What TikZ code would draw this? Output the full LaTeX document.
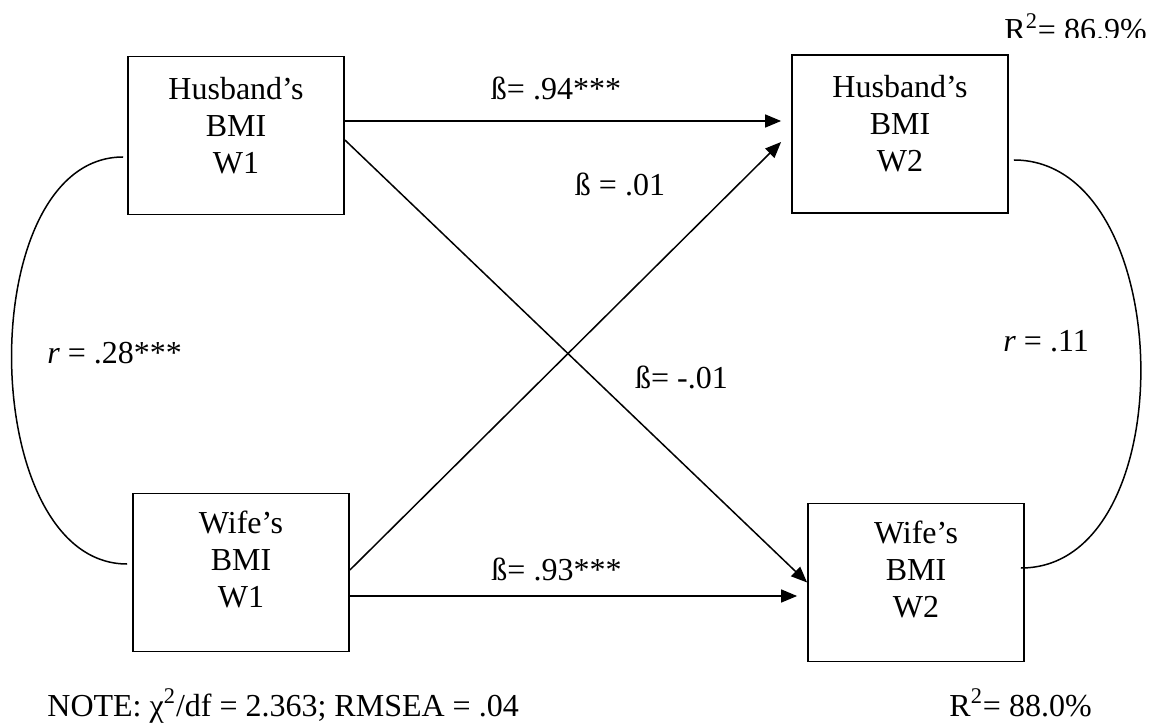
\documentclass[tikz,border=0pt]{standalone}
\usepackage{fontspec}
\setmainfont{Liberation Serif}
\usetikzlibrary{arrows.meta,calc}
\begin{document}
\begin{tikzpicture}[x=0.5pt,y=-0.5pt,
  every node/.style={font=\fontsize{16pt}{18.5pt}\selectfont, inner sep=0pt},
  var/.style={draw, line width=0.9pt, minimum width=108pt, minimum height=79pt},
  vartext/.style={anchor=base},
  path/.style={line width=0.75pt, -{Triangle[length=8pt,width=6.5pt]}},
  cov/.style={line width=0.75pt},
  lbl/.style={anchor=base},
  lblw/.style={anchor=base west},
]
\useasboundingbox (0,0) rectangle (1154,726);

% observed variables
\node[var] (hw1) at (236,135.5) {};
\node[var] (hw2) at (900,134) {};
\node[var] (ww1) at (241,572.5) {};
\node[var] (ww2) at (916,582.5) {};

\node[vartext] (hw1t) at ($(hw1.north)+(0,44)$) {\begin{tabular}[t]{@{}c@{}}Husband’s\\BMI\\W1\end{tabular}};
\node[vartext] (hw2t) at ($(hw2.north)+(0,43)$) {\begin{tabular}[t]{@{}c@{}}Husband’s\\BMI\\W2\end{tabular}};
\node[vartext] (ww1t) at ($(ww1.north)+(0,41)$) {\begin{tabular}[t]{@{}c@{}}Wife’s\\BMI\\W1\end{tabular}};
\node[vartext] (ww2t) at ($(ww2.north)+(0,41)$) {\begin{tabular}[t]{@{}c@{}}Wife’s\\BMI\\W2\end{tabular}};

% regression paths
\draw[path] ($(hw1.east)+(0,-14.5)$) -- ($(hw2.west)+(-10,-13)$);
\draw[path] ($(hw1.east)+(0,4.5)$) -- (ww2.west);
\draw[path] ($(ww1.east)+(0,-2.5)$) -- ($(hw2.west)+(-10,8)$);
\draw[path] ($(ww1.east)+(0,23.5)$) -- ($(ww2.west)+(-10,13.5)$);

% correlations
\draw[cov] ($(hw1.west)+(-4,21.5)$) to[out=180,in=180,looseness=0.95] ($(ww1.west)+(-5,-8.5)$);
\draw[cov] ($(hw2.east)+(5,26)$) to[out=0,in=0,looseness=1.03] ($(ww2.east)+(-4,-14.5)$);

% coefficients
\node[lbl] (b1) at (556,100) {ß= .94***};
\node[lbl] (b2) at (620,196) {ß = .01};
\node[lbl] (b3) at (681.5,388) {ß= -.01};
\node[lbl] (b4) at (556.5,580) {ß= .93***};
\node[lblw] (r1) at (47,364) {\textit{r} = .28***};
\node[lblw] (r2) at (1003,352) {\textit{r} = .11};

% explained variance and fit
\begin{scope}
  \clip (990,0) rectangle (1154,38);
  \node[lblw] (rsq1) at (1004,41) {R\textsuperscript{2}= 86.9\%};
\end{scope}
\node[lblw] (rsq2) at (949,716) {R\textsuperscript{2}= 88.0\%};
\node[lblw] (note) at (47,716) {NOTE: χ\textsuperscript{2}/df = 2.363; RMSEA = .04};
\end{tikzpicture}
\end{document}
